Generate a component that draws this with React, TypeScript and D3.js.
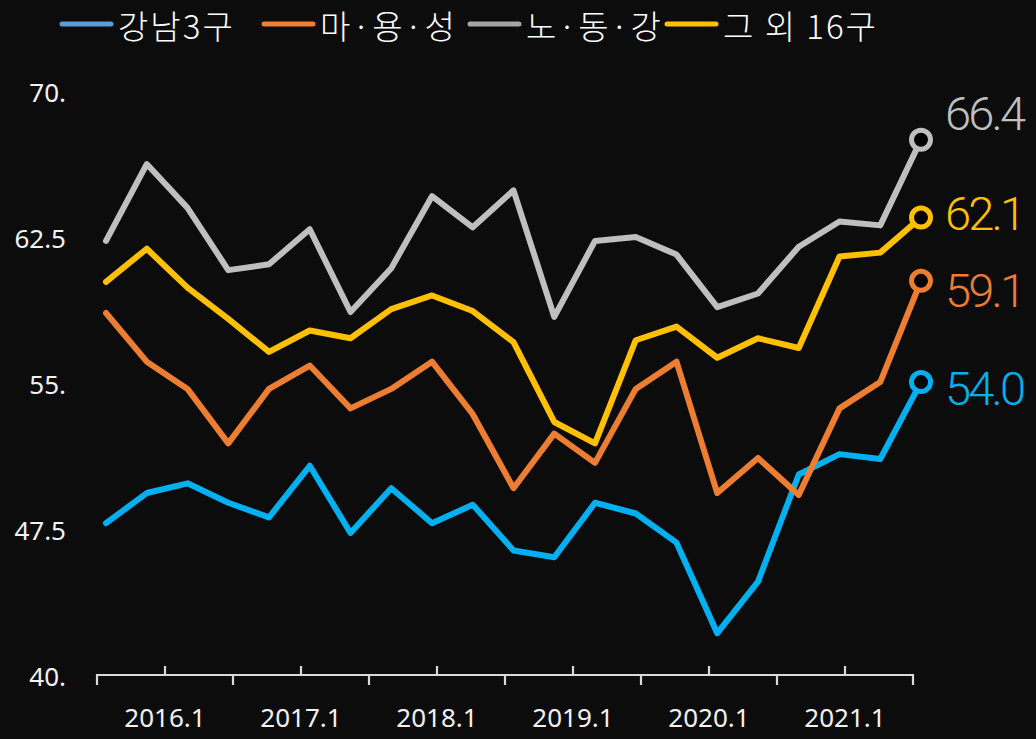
import React, { useEffect, useRef } from 'react';
import * as d3 from 'd3';

// quarterly points, 2016 Q1 .. 2021 Q1
const quarters = [
  '16.1', '16.2', '16.3', '16.4', '17.1', '17.2', '17.3', '17.4',
  '18.1', '18.2', '18.3', '18.4', '19.1', '19.2', '19.3', '19.4',
  '20.1', '20.2', '20.3', '20.4', '21.1',
];

const gangnam = [47.9, 49.45, 49.95, 48.95, 48.2, 50.85, 47.4, 49.7, 47.9, 48.85, 46.5, 46.15, 48.95, 48.4, 46.9, 42.25, 44.9, 50.4, 51.45, 51.2, 55.15];
const mayongseong = [58.7, 56.2, 54.8, 52.0, 54.8, 56.0, 53.8, 54.8, 56.2, 53.5, 49.7, 52.5, 51.0, 54.8, 56.2, 49.45, 51.25, 49.35, 53.8, 55.15, 60.35];
const nodogang = [62.4, 66.35, 64.1, 60.9, 61.2, 63.0, 58.75, 61.0, 64.7, 63.1, 65.0, 58.5, 62.4, 62.6, 61.7, 59.0, 59.7, 62.1, 63.4, 63.2, 67.6];
const others = [60.3, 62.0, 60.0, 58.4, 56.7, 57.8, 57.4, 58.9, 59.6, 58.8, 57.2, 53.1, 52.0, 57.3, 58.0, 56.4, 57.4, 56.9, 61.6, 61.8, 63.6];

const seriesNames = ['강남3구', '마·용·성', '노·동·강', '그 외 16구'];
const lineColors = ['#00B0F0', '#ED7D31', '#BFBFBF', '#FFC000'];
const legendColors = ['#5B9BD5', '#ED7D31', '#A5A5A5', '#FFC000'];
const endLabels = ['54.0', '59.1', '66.4', '62.1'];

const yTicks = [40, 47.5, 55, 62.5, 70];
const yTickLabels = ['40.', '47.5', '55.', '62.5', '70.'];
const yearLabels = ['2016.1', '2017.1', '2018.1', '2019.1', '2020.1', '2021.1'];

export default function App() {
  const svgRef = useRef<SVGSVGElement>(null);

  useEffect(() => {
    const W = 1036, H = 739;
    const svg = d3.select(svgRef.current);
    svg.selectAll('*').remove();
    svg.attr('width', W).attr('height', H);

    svg.append('rect').attr('width', W).attr('height', H).attr('fill', '#0c0c0c');

    const x = d3.scalePoint<string>().domain(quarters).range([106, 921]);
    const y = d3.scaleLinear().domain([40, 70]).range([677, 93]);

    // y labels (no axis line)
    svg.append('g')
      .selectAll('text')
      .data(yTicks)
      .enter()
      .append('text')
      .attr('x', 66)
      .attr('y', d => y(d))
      .attr('dy', '0.35em')
      .attr('text-anchor', 'end')
      .attr('fill', '#f2f2f2')
      .style('font-family', '"Noto Sans", "Open Sans", sans-serif')
      .style('font-size', '26px')
      .text((d, i) => yTickLabels[i]);

    // x axis: half-year ticks, alternating down / up
    const xa = d3.scaleLinear().domain([0, 12]).range([97, 913]);
    const axisY = 675;
    const ax = svg.append('g').attr('stroke', '#d9d9d9').attr('stroke-width', 2.2);
    ax.append('line').attr('x1', xa(0)).attr('x2', xa(12)).attr('y1', axisY).attr('y2', axisY);
    ax.selectAll('line.tk')
      .data(d3.range(13))
      .enter()
      .append('line')
      .attr('class', 'tk')
      .attr('x1', d => xa(d))
      .attr('x2', d => xa(d))
      .attr('y1', d => (d % 2 === 0 ? axisY - 1 : axisY - 9))
      .attr('y2', d => (d % 2 === 0 ? axisY + 10 : axisY));

    svg.append('g')
      .selectAll('text')
      .data(yearLabels)
      .enter()
      .append('text')
      .attr('x', (d, i) => xa(i * 2 + 1))
      .attr('y', 718)
      .attr('dy', '0.35em')
      .attr('text-anchor', 'middle')
      .attr('fill', '#f2f2f2')
      .style('font-family', '"Noto Sans", "Open Sans", sans-serif')
      .style('font-size', '26px')
      .text(d => d);

    const allSeries = [gangnam, mayongseong, nodogang, others];
    const drawOrder = [0, 1, 2, 3];
    const line = d3.line<number>()
      .x((d, i) => x(quarters[i]) as number)
      .y(d => y(d));

    drawOrder.forEach(s => {
      svg.append('path')
        .datum(allSeries[s])
        .attr('fill', 'none')
        .attr('stroke', lineColors[s])
        .attr('stroke-width', 6)
        .attr('stroke-linejoin', 'round')
        .attr('stroke-linecap', 'round')
        .attr('d', line);
    });

    // end markers and value labels
    drawOrder.forEach(s => {
      const vals = allSeries[s];
      const last = vals.length - 1;
      svg.append('circle')
        .attr('cx', x(quarters[last]) as number)
        .attr('cy', y(vals[last]))
        .attr('r', 9.5)
        .attr('fill', '#000')
        .attr('stroke', lineColors[s])
        .attr('stroke-width', 5);
    });

    const labelY = [388, 290, 113, 213];
    endLabels.forEach((t, s) => {
      svg.append('text')
        .attr('x', 945)
        .attr('y', labelY[s])
        .attr('dy', '0.36em')
        .attr('fill', lineColors[s])
        .style('font-family', 'Roboto, "Liberation Sans", sans-serif')
        .style('font-weight', 300)
        .style('font-size', '47px')
        .style('letter-spacing', '-2.8px')
        .text(t);
    });

    // legend
    const legendX = [60, 262, 468, 665];
    const lg = svg.append('g');
    seriesNames.forEach((name, i) => {
      lg.append('line')
        .attr('x1', legendX[i] + 2)
        .attr('x2', legendX[i] + 51)
        .attr('y1', 24)
        .attr('y2', 24)
        .attr('stroke', legendColors[i])
        .attr('stroke-width', 5)
        .attr('stroke-linecap', 'round');
      lg.append('text')
        .attr('x', legendX[i] + 58)
        .attr('y', 27)
        .attr('dy', '0.36em')
        .attr('fill', '#ffffff')
        .style('font-family', '"Noto Sans CJK KR", sans-serif')
        .style('font-size', '33px')
        .style('font-weight', 300)
        .style('letter-spacing', '2px')
        .text(name);
    });
  }, []);

  return (
    <div style={{ position: 'absolute', left: 0, top: 0 }}>
      <svg ref={svgRef} style={{ display: 'block' }}></svg>
    </div>
  );
}
